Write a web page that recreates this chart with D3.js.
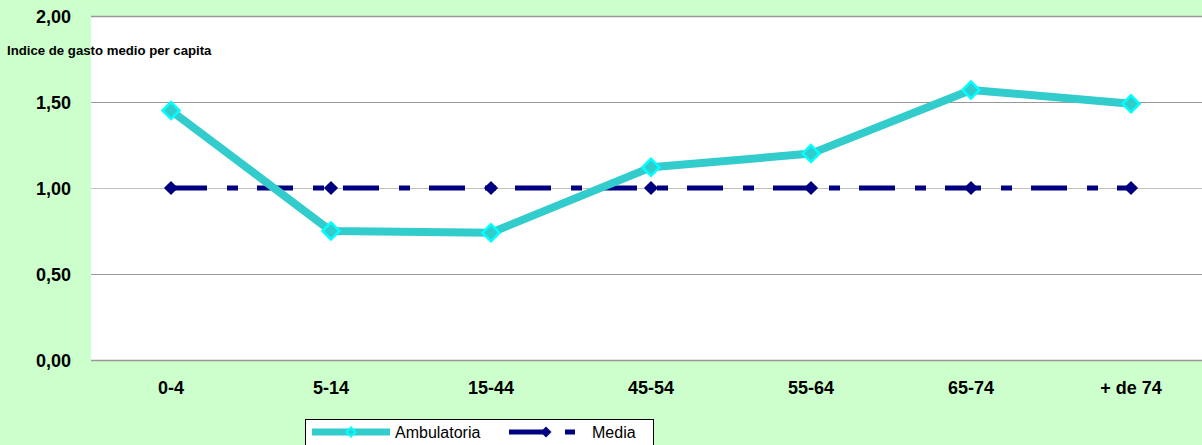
<!DOCTYPE html>
<html><head><meta charset="utf-8">
<script src="https://cdn.jsdelivr.net/npm/d3@7"></script>
<style>
html,body{margin:0;padding:0;background:#CCFFCC;overflow:hidden;}
svg{display:block;}
text{font-family:Arial,"Liberation Sans",sans-serif;}
</style></head>
<body>
<svg id="chart" width="1202" height="445"></svg>
<script>
const categories = ["0-4","5-14","15-44","45-54","55-64","65-74","+ de 74"];
const ambulatoria = [1.45,0.75,0.74,1.12,1.20,1.57,1.49];
const media = [1.00,1.00,1.00,1.00,1.00,1.00,1.00];
const yTicks = [0,0.5,1,1.5,2];
const yTickLabels = ["0,00","0,50","1,00","1,50","2,00"];
const seriesNames = ["Ambulatoria","Media"];
const yTitle = "Indice de gasto medio per capita";

const svg = d3.select("#chart");
const W = 1202, H = 445;
svg.append("rect").attr("width",W).attr("height",H).attr("fill","#CCFFCC");

const x = d3.scaleBand().domain(categories).range([91,1211]);
const xc = d => x(d) + x.bandwidth()/2;
const y = d3.scaleLinear().domain([0,2]).range([360,16]);

// plot area
svg.append("rect").attr("x",91).attr("y",y(2)).attr("width",W-91).attr("height",y(0)-y(2)).attr("fill","#ffffff");

// gridlines
const grid = svg.append("g");
grid.selectAll("line").data(yTicks.filter(t=>t>0)).join("line")
  .attr("x1",91).attr("x2",W)
  .attr("y1",d=>Math.round(y(d))+0.5).attr("y2",d=>Math.round(y(d))+0.5)
  .attr("stroke",d=> d===1 ? "#c0c0c0" : "#999999").attr("stroke-width",d=>d===2?1.5:1);

// x axis line
svg.append("line").attr("x1",91).attr("x2",W).attr("y1",360.5).attr("y2",360.5).attr("stroke","#999999").attr("stroke-width",1.5);

// y tick labels via axis
const yAxis = d3.axisLeft(y).tickValues(yTicks).tickFormat((d,i)=>yTickLabels[i]).tickSize(0).tickPadding(0);
const ya = svg.append("g").attr("transform","translate(71,0)").call(yAxis);
ya.select(".domain").remove();
ya.selectAll("text").attr("font-size","18px").attr("font-weight","bold").attr("fill","#000").attr("dy","0.36em");

// x tick labels via axis
const xAxis = d3.axisBottom(x).tickSize(0).tickPadding(0);
const xa = svg.append("g").attr("transform","translate(0,381)").call(xAxis);
xa.select(".domain").remove();
xa.selectAll("text").attr("font-size","18px").attr("font-weight","bold").attr("fill","#000").attr("dy","0.71em");

// y title
svg.append("text").attr("x",7).attr("y",55).attr("font-size","13.2px").attr("font-weight","bold").attr("fill","#000").text(yTitle);

const line = d3.line().x((d,i)=>xc(categories[i])).y(d=>y(d));

// media series
svg.append("path").datum(media).attr("d",line).attr("fill","none")
  .attr("stroke","#000080").attr("stroke-width",5).attr("stroke-dasharray","36,20,11,19");
svg.selectAll(".mm").data(media).join("path").attr("class","mm")
  .attr("d",d3.symbol(d3.symbolSquare, 100)())
  .attr("transform",(d,i)=>`translate(${xc(categories[i])},${y(d)}) rotate(45)`)
  .attr("fill","#000080");

// ambulatoria series
svg.append("path").datum(ambulatoria).attr("d",line).attr("fill","none")
  .attr("stroke","#33CCCC").attr("stroke-width",8).attr("stroke-linejoin","round");
svg.selectAll(".am").data(ambulatoria).join("path").attr("class","am")
  .attr("d",d3.symbol(d3.symbolSquare, 144)())
  .attr("transform",(d,i)=>`translate(${xc(categories[i])},${y(d)}) rotate(45)`)
  .attr("fill","#33CCCC").attr("stroke","#00FFFF").attr("stroke-width",2.5);

// legend
const lg = svg.append("g");
lg.append("rect").attr("x",305.5).attr("y",419.5).attr("width",348).attr("height",40).attr("fill","#fff").attr("stroke","#000").attr("stroke-width",1);
lg.append("line").attr("x1",312).attr("x2",390).attr("y1",432).attr("y2",432).attr("stroke","#33CCCC").attr("stroke-width",7);
lg.append("path").attr("d",d3.symbol(d3.symbolSquare,40)()).attr("transform","translate(351,432) rotate(45)")
  .attr("fill","#33CCCC").attr("stroke","#00FFFF").attr("stroke-width",2);
lg.append("text").attr("x",395).attr("y",438).attr("font-size","16px").attr("fill","#000").text(seriesNames[0]);
lg.append("line").attr("x1",509).attr("x2",575).attr("y1",432).attr("y2",432).attr("stroke","#000080").attr("stroke-width",5).attr("stroke-dasharray","36,20,11,19");
lg.append("path").attr("d",d3.symbol(d3.symbolSquare,60)()).attr("transform","translate(546,432) rotate(45)").attr("fill","#000080");
lg.append("text").attr("x",592).attr("y",438).attr("font-size","16px").attr("fill","#000").text(seriesNames[1]);
</script>
</body></html>
